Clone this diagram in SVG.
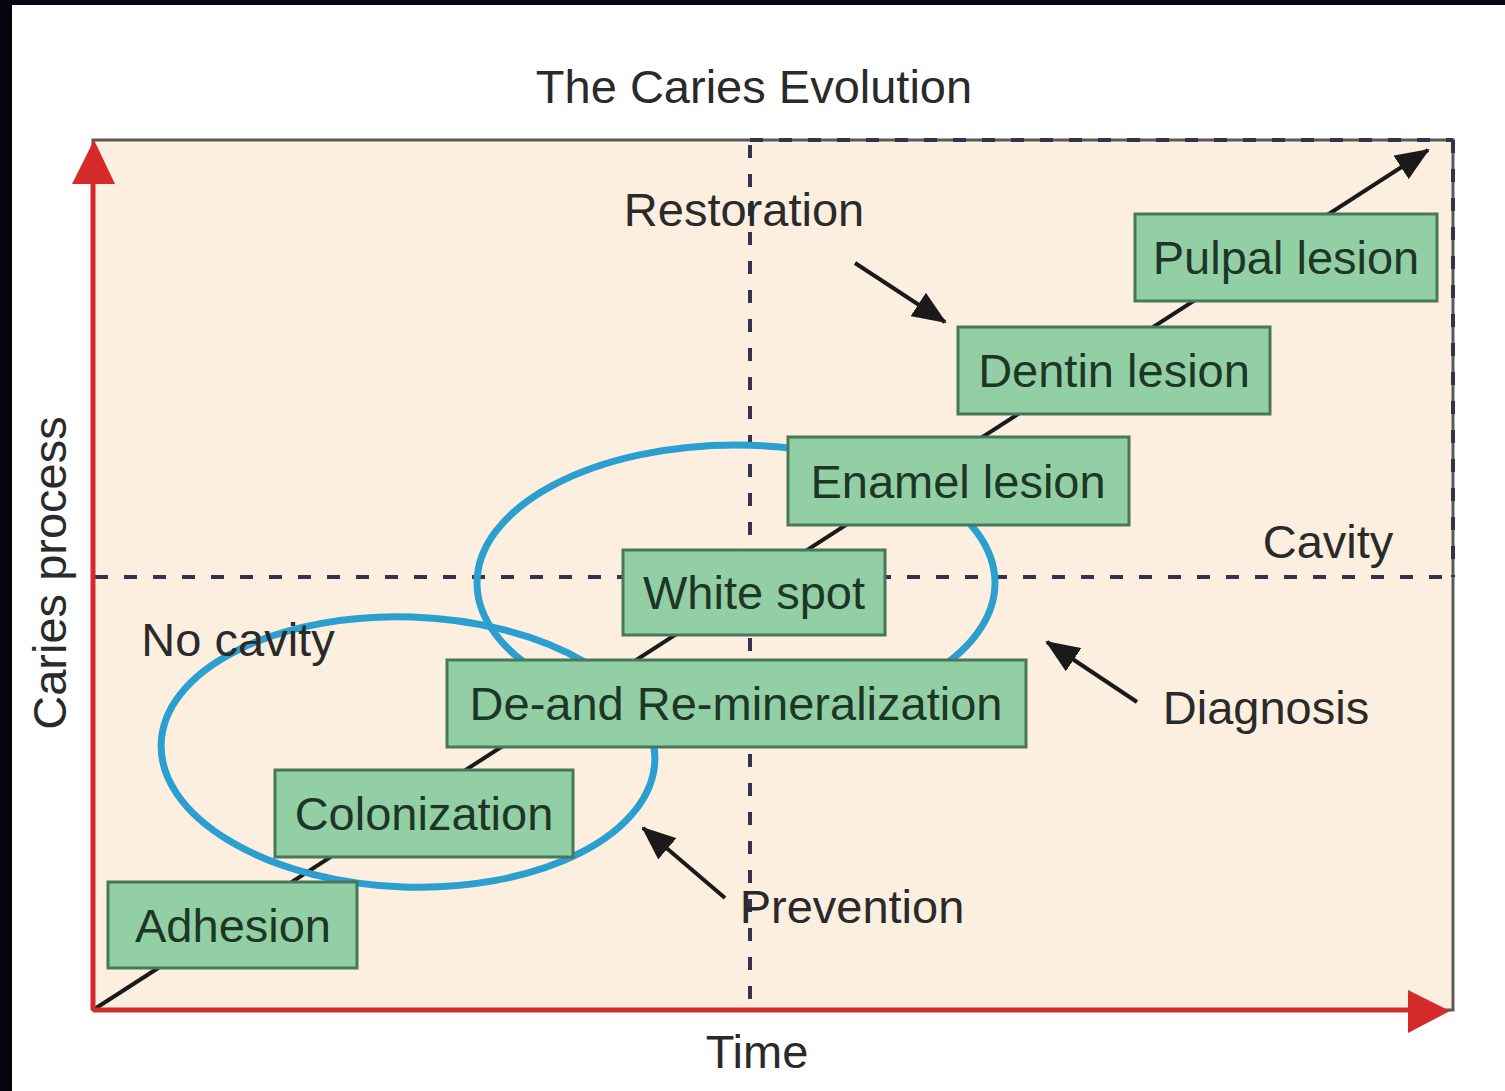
<svg xmlns="http://www.w3.org/2000/svg" width="1505" height="1091" viewBox="0 0 1505 1091">
<defs>
<style>
.lbl{font-family:"Liberation Sans",Arial,sans-serif;font-size:47px;fill:#2a2a2a}
.node rect{fill:#93cfa5;stroke:#46785a;stroke-width:3}
.node text{font-family:"Liberation Sans",Arial,sans-serif;font-size:47px;fill:#1d3626;text-anchor:middle}
.dash{stroke:#35324f;stroke-width:4;stroke-dasharray:13 16;fill:none}
.ell{fill:none;stroke:#2b9fd0;stroke-width:7}
.blk{stroke:#1a1a1a;stroke-width:4;fill:none}
.red{stroke:#d42a2a;stroke-width:5;fill:none}
</style>
<marker id="ah" markerUnits="userSpaceOnUse" markerWidth="34" markerHeight="28" refX="32" refY="14" orient="auto">
<path d="M0,0 L34,14 L0,28 Z" fill="#1a1a1a"/>
</marker>
</defs>
<rect x="0" y="0" width="1505" height="1091" fill="#ffffff"/>
<rect x="0" y="0" width="1505" height="5" fill="#05050f"/>
<rect x="0" y="0" width="12" height="1091" fill="#05050f"/>
<g id="plot">
<rect x="93" y="140" width="1360" height="870" fill="#fcefe0" stroke="#5a5a5a" stroke-width="3"/>
<line x1="750" y1="140" x2="1453" y2="140" class="dash"/>
<line x1="1453" y1="140" x2="1453" y2="577" class="dash"/>
<line x1="750" y1="145" x2="750" y2="1008" class="dash"/>
<line x1="95" y1="577" x2="1453" y2="577" class="dash"/>
</g>
<g id="connectors">
<line x1="93" y1="1010" x2="1428" y2="150" class="blk" marker-end="url(#ah)"/>
<line x1="855" y1="263" x2="945" y2="322" class="blk" marker-end="url(#ah)"/>
<line x1="1137" y1="702" x2="1047" y2="642" class="blk" marker-end="url(#ah)"/>
<line x1="725" y1="898" x2="643" y2="828" class="blk" marker-end="url(#ah)"/>
</g>
<g id="ellipses">
<ellipse cx="408" cy="752" rx="247" ry="135" transform="rotate(2 408 752)" class="ell"/>
<ellipse cx="736" cy="583" rx="259" ry="138" class="ell"/>
</g>
<g id="axes">
<line x1="93" y1="1010" x2="93" y2="180" class="red"/>
<path d="M94,140 L115,184 L72,184 Z" fill="#d42a2a"/>
<line x1="93" y1="1010" x2="1412" y2="1010" class="red"/>
<path d="M1450,1011 L1408,990 L1408,1033 Z" fill="#d42a2a"/>
</g>
<g id="n-adhesion" class="node"><rect x="108" y="882" width="249" height="86"/><text x="233" y="942">Adhesion</text></g>
<g id="n-colonization" class="node"><rect x="275" y="770" width="298" height="87"/><text x="424" y="830">Colonization</text></g>
<g id="n-demin" class="node"><rect x="447" y="660" width="579" height="87"/><text x="736" y="720">De-and Re-mineralization</text></g>
<g id="n-whitespot" class="node"><rect x="623" y="550" width="262" height="85"/><text x="754" y="609">White spot</text></g>
<g id="n-enamel" class="node"><rect x="788" y="437" width="341" height="88"/><text x="958" y="498">Enamel lesion</text></g>
<g id="n-dentin" class="node"><rect x="958" y="327" width="312" height="87"/><text x="1114" y="387">Dentin lesion</text></g>
<g id="n-pulpal" class="node"><rect x="1135" y="214" width="302" height="87"/><text x="1286" y="274">Pulpal lesion</text></g>
<g id="labels">
<text class="lbl" x="754" y="103" text-anchor="middle">The Caries Evolution</text>
<text class="lbl" x="744" y="226" text-anchor="middle">Restoration</text>
<text class="lbl" x="1328" y="558" text-anchor="middle">Cavity</text>
<text class="lbl" x="238" y="656" text-anchor="middle">No cavity</text>
<text class="lbl" x="1266" y="724" text-anchor="middle">Diagnosis</text>
<text class="lbl" x="852" y="923" text-anchor="middle">Prevention</text>
<text class="lbl" x="757" y="1068" text-anchor="middle">Time</text>
<text class="lbl" x="0" y="0" text-anchor="middle" transform="translate(66 573) rotate(-90)">Caries process</text>
</g>
</svg>
